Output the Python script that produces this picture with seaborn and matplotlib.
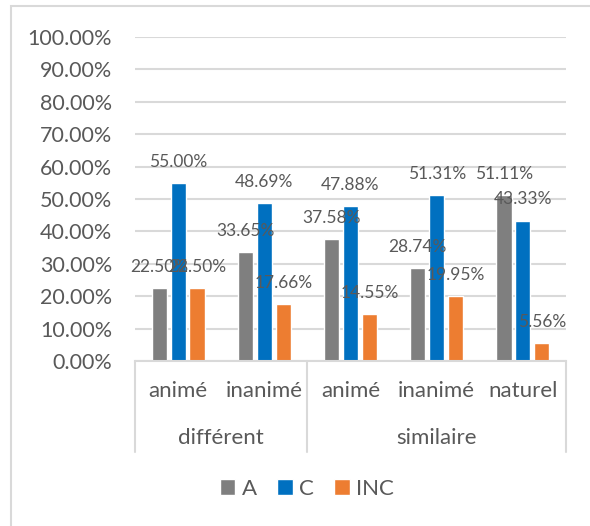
import matplotlib
matplotlib.use("Agg")
import matplotlib.pyplot as plt
import matplotlib.patches as mpatches
from matplotlib.ticker import FuncFormatter
import seaborn as sns
import pandas as pd

# ---- data ----
groups = ["différent", "différent", "similaire", "similaire", "similaire"]
subcats = ["animé", "inanimé", "animé", "inanimé", "naturel"]
series = ["A", "C", "INC"]
vals_A = [22.50, 33.65, 37.58, 28.74, 51.11]
vals_C = [55.00, 48.69, 47.88, 51.31, 43.33]
vals_INC = [22.50, 17.66, 14.55, 19.95, 5.56]
colors = ["#7F7F7F", "#0070C0", "#ED7D31"]
yticks = [0, 10, 20, 30, 40, 50, 60, 70, 80, 90, 100]

keys = [f"{g}|{s}" for g, s in zip(groups, subcats)]
rows = []
for name, vals in zip(series, [vals_A, vals_C, vals_INC]):
    for k, v in zip(keys, vals):
        rows.append({"cat": k, "serie": name, "val": v})
df = pd.DataFrame(rows)

sns.set_theme(style="white")
plt.rcParams["font.family"] = ["Lato", "DejaVu Sans"]
txt = "#595959"
grid = "#D9D9D9"

W, H = 590, 526
fig = plt.figure(figsize=(W / 100, H / 100), dpi=100)
x0, x1 = 135, 566
y0, y1 = 361, 37
ax = fig.add_axes([x0 / W, 1 - y0 / H, (x1 - x0) / W, (y0 - y1) / H])

sns.barplot(data=df, x="cat", y="val", hue="serie", order=keys,
            hue_order=series, palette=colors, width=0.66, gap=0.2,
            saturation=1, ax=ax, legend=True, errorbar=None)

ax.set_ylim(0, 100)
ax.set_xlim(-0.5, len(keys) - 0.5)
ax.set_yticks(yticks)
ax.yaxis.set_major_formatter(FuncFormatter(lambda v, p: f"{v:.2f}%"))
ax.tick_params(axis="y", length=0, pad=16.5, labelsize=15.5, labelcolor=txt)
ax.set_xticks([])
ax.set_xlabel("")
ax.set_ylabel("")
for s in ["top", "right", "left"]:
    ax.spines[s].set_visible(False)
ax.spines["bottom"].set_color(grid)
ax.spines["bottom"].set_linewidth(1.5)
ax.yaxis.grid(True, color=grid, linewidth=1.5)
ax.set_axisbelow(True)

for cont in ax.containers:
    texts = ax.bar_label(cont, labels=[f"{b.get_height():.2f}%" for b in cont],
                         padding=9.5, fontsize=12.5, color=txt)
    for t in texts:
        t.set_zorder(10)

# category axis (multi-level)
tr = ax.get_xaxis_transform()
for i, s in enumerate(subcats):
    ax.text(i, -0.0926, s, transform=tr, ha="center", va="center",
            fontsize=16, color=txt, clip_on=False)
# group separators and labels
bounds = [-0.5]
for i in range(1, len(groups)):
    if groups[i] != groups[i - 1]:
        bounds.append(i - 0.5)
bounds.append(len(groups) - 0.5)
for b in bounds:
    ax.plot([b, b], [0, -0.281], transform=tr, color=grid, lw=1.5,
            clip_on=False)
uniq = []
for g in groups:
    if g not in uniq:
        uniq.append(g)
for j, g in enumerate(uniq):
    mid = (bounds[j] + bounds[j + 1]) / 2
    ax.text(mid, -0.2377, g, transform=tr, ha="center", va="center",
            fontsize=16, color=txt, clip_on=False)

handles, labels = ax.get_legend_handles_labels()
ax.get_legend().remove()
leg = fig.legend(handles, labels, loc="center", bbox_to_anchor=(307 / W, 1 - 489 / H),
                 ncol=3, frameon=False, fontsize=16, handlelength=0.7,
                 handleheight=0.7, handletextpad=0.3, columnspacing=0.9)
for t in leg.get_texts():
    t.set_color(txt)

# outer chart border
fig.add_artist(mpatches.Rectangle((11 / W, -0.1), 1.2, 1 - 6 / H + 0.1,
                                  transform=fig.transFigure, fill=False,
                                  edgecolor="#D9D9D9", lw=1.5))

fig.savefig("out.png", dpi=100)
